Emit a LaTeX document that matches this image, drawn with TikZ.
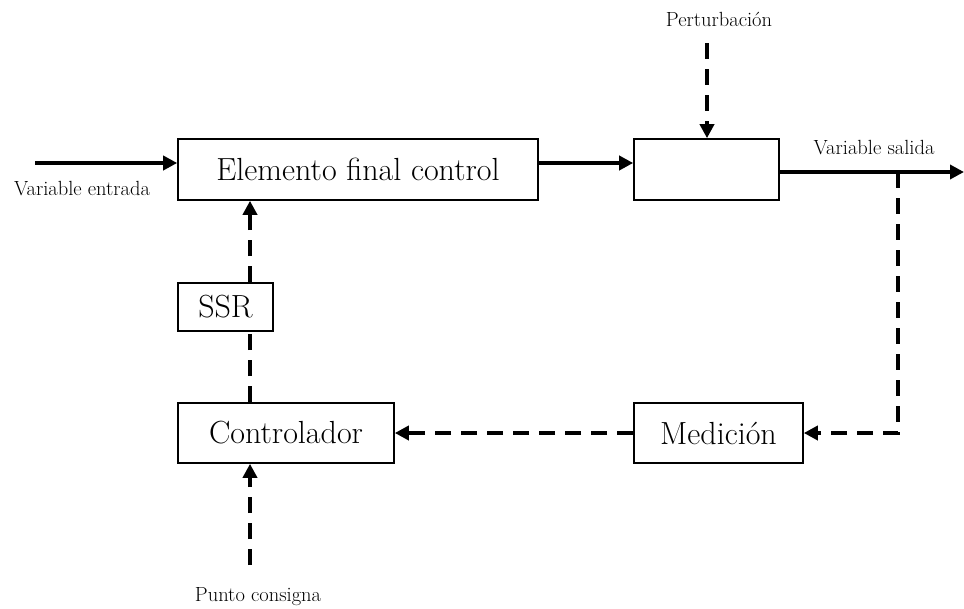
\documentclass[tikz,border=0pt]{standalone}
\usetikzlibrary{arrows.meta}
\begin{document}
\begin{tikzpicture}[x=1pt,y=-1pt,
  block/.style={draw, line width=1.6pt, inner sep=0pt, font=\fontsize{32}{36}\selectfont},
  tag/.style={inner sep=0pt, font=\fontsize{20.5}{24}\selectfont},
  tip/.style={-{Triangle[length=14pt,width=14pt]}},
  flow/.style={line width=3.8pt, tip},
  signalline/.style={line width=3.8pt, dash pattern=on 16pt off 10pt},
  signal/.style={signalline, tip},
]
\useasboundingbox (0,0) rectangle (964,608);

% blocks
\node[block, minimum width=360pt, minimum height=61pt] (efc)  at (358,169.5) {Elemento final control};
\node[block, minimum width=145pt, minimum height=61pt] (proc) at (706.5,169.5) {};
\node[block, minimum width=95pt,  minimum height=48pt] (ssr)  at (225.5,307) {SSR};
\node[block, minimum width=216pt, minimum height=60pt] (ctrl) at (286,433) {Controlador};
\node[block, minimum width=169pt, minimum height=60pt] (med)  at (718.5,433) {Medición};

% labels
\node[tag] (lpert) at (719,19)  {Perturbación};
\node[tag] (lout)  at (874,148) {Variable salida};
\node[tag] (lin)   at (82,189)  {Variable entrada};
\node[tag] (lsp)   at (258,597) {Punto consigna};

% reference points
\coordinate (row1) at (0,163);
\coordinate (row2) at (0,172);
\coordinate (col)  at (250,0);
\coordinate (inA)  at (35,163);
\coordinate (outEnd) at (964,172);
\coordinate (tap)  at (898,172);
\coordinate (dist) at (707,43);
\coordinate (sp)   at (250,565);

% main flow
\draw[flow] (inA) -- (inA -| efc.west);
\draw[flow] (efc.east |- row1) -- (proc.west |- row1);
\draw[flow] (proc.east |- row2) -- (outEnd);

% signals
\draw[signal] (dist) -- (dist |- proc.north);
\draw[signal] (tap) -- (tap |- med.east) -- (med.east);
\draw[signal] (med.west) -- (ctrl.east);
\draw[signalline] (ctrl.north -| col) -- (ssr.south -| col);
\draw[signal] (ssr.north -| col) -- (efc.south -| col);
\draw[signal] (sp) -- (sp |- ctrl.south);
\end{tikzpicture}
\end{document}
